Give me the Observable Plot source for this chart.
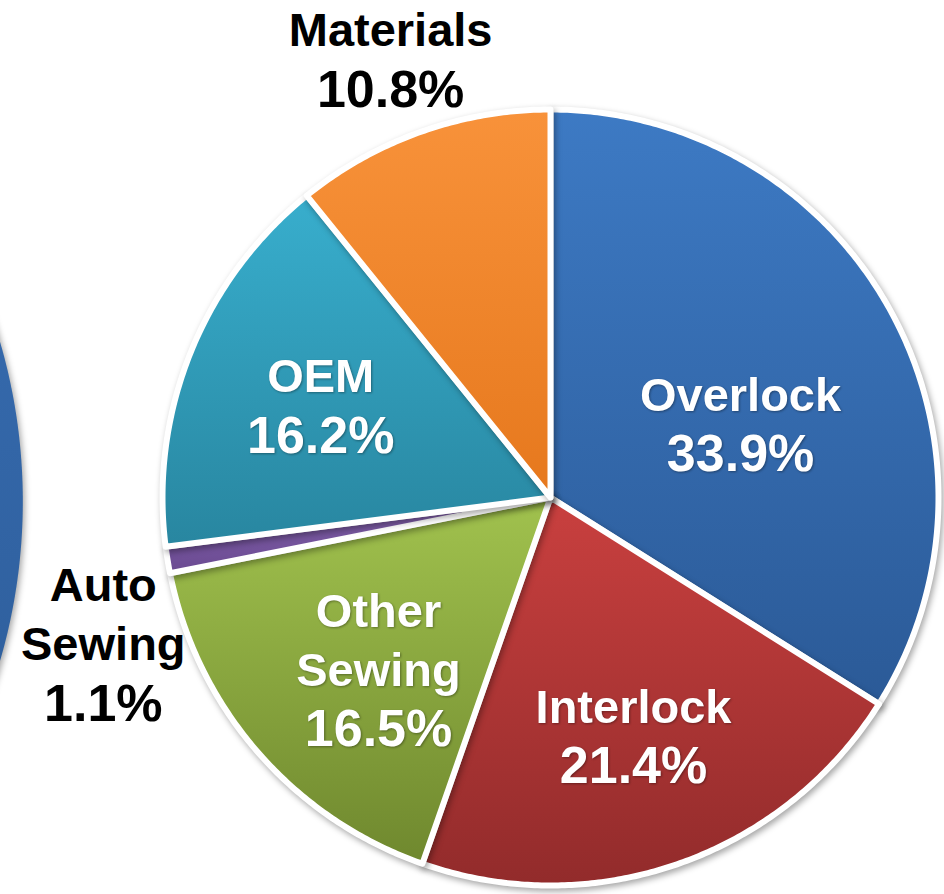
<!DOCTYPE html>
<html><head><meta charset="utf-8">
<script src="https://cdn.jsdelivr.net/npm/d3@7"></script>
<script src="https://cdn.jsdelivr.net/npm/@observablehq/plot@0.6"></script>
<style>
body{margin:0;background:#fff;}
#chart svg{display:block;}
</style>
</head><body><div id="chart"></div>
<script>
// ---- data ----
const categories = ["Overlock", "Interlock", "Other Sewing", "Auto Sewing", "OEM", "Materials"];
const shares = [33.9, 21.4, 16.5, 1.1, 16.2, 10.8];
const nameLines = [["Overlock"], ["Interlock"], ["Other", "Sewing"], ["Auto", "Sewing"], ["OEM"], ["Materials"]];
const percentTexts = ["33.9%", "21.4%", "16.5%", "1.1%", "16.2%", "10.8%"];
const colorTop = ["#3d7ac4", "#c9403f", "#a1c24e", "#8563ae", "#38aecd", "#f8923a"];
const colorBottom = ["#2b5a97", "#922b2b", "#6f882e", "#6a4a91", "#2886a0", "#e6781d"];
// neighbouring pie (previous chart, cut off at the left edge)
const neighborShares = [100];
const neighborTop = "#3a72ba", neighborBottom = "#2a5790";

// ---- layout (in pie-radius units; pie centre at 0,0) ----
const R = 388, CX = 550, CY = 497, W = 944, H = 894;
const labelPlace = { // angle (deg clockwise from top), radius factor
  "Overlock": [69.2, 0.524], "Interlock": [160.9, 0.654], "Other Sewing": [224.8, 0.629],
  "Auto Sewing": [251.7, 1.214], "OEM": [291.6, 0.637], "Materials": [339.9, 1.199]
};
const outside = new Set(["Auto Sewing", "Materials"]);
const lineStep = 59 / R;

const total = d3.sum(shares);
let acc = 0;
const slices = categories.map((c, i) => {
  const a0 = acc / total * 360; acc += shares[i];
  const a1 = acc / total * 360;
  return {name: c, i, a0, a1};
});

function ring(name, a0, a1, cx, cy, r, full) {
  const pts = [];
  if (!full) pts.push({name, x: cx, y: cy});
  const n = Math.max(2, Math.ceil((a1 - a0) / 0.5));
  for (let k = 0; k <= n; k++) {
    const a = (a0 + (a1 - a0) * k / n) * Math.PI / 180;
    pts.push({name, x: cx + r * Math.sin(a), y: cy + r * Math.cos(a)});
  }
  return pts;
}

const marks = [];
neighborShares.forEach((s, j) => {
  marks.push(Plot.line(ring("neighbor" + j, 0, 360 * s / 100, -2.83, -0.01, 1.47, true),
    {x: "x", y: "y", curve: "linear-closed", fill: "url(#gn)", stroke: "none", className: "slice"}));
});
slices.forEach(s => {
  marks.push(Plot.line(ring(s.name, s.a0, s.a1, 0, 0, 1, false),
    {x: "x", y: "y", curve: "linear-closed", fill: `url(#g${s.i})`, stroke: "white",
     strokeWidth: 6, strokeLinejoin: "round", className: "slice"}));
});

// label lines, each placed individually
const nameData = [], pctData = [];
slices.forEach(s => {
  const [ang, rad] = labelPlace[s.name];
  const a = ang * Math.PI / 180;
  const cx = rad * Math.sin(a), cy = rad * Math.cos(a);
  const lines = nameLines[s.i];
  const n = lines.length + 1;
  const out = outside.has(s.name);
  lines.forEach((t, j) => nameData.push({x: cx, y: cy + ((n - 1) / 2 - j) * lineStep, text: t, out}));
  pctData.push({x: cx, y: cy - ((n - 1) / 2) * lineStep, text: percentTexts[s.i], out});
});
const txt = (data, size, fill, cls) => Plot.text(data, {x: "x", y: "y", text: "text", fill,
  fontSize: size, fontWeight: "bold", className: cls});
marks.push(txt(nameData.filter(d => !d.out), 47, "white", "inlab"));
marks.push(txt(pctData.filter(d => !d.out), 52, "white", "inlab"));
marks.push(txt(nameData.filter(d => d.out), 47, "black", "outlab"));
marks.push(txt(pctData.filter(d => d.out), 52, "black", "outlab"));

const svg = Plot.plot({
  width: W, height: H, margin: 0,
  style: {fontFamily: "'Liberation Sans', Arial, sans-serif", background: "white"},
  x: {domain: [-CX / R, (W - CX) / R], axis: null},
  y: {domain: [-(H - CY) / R, CY / R], axis: null},
  marks
});

// gradients
const defs = d3.create("svg:defs");
function grad(id, top, bottom) {
  const g = defs.append("linearGradient").attr("id", id).attr("x1", 0).attr("y1", 0).attr("x2", 0).attr("y2", 1);
  g.append("stop").attr("offset", "0%").attr("stop-color", top);
  g.append("stop").attr("offset", "100%").attr("stop-color", bottom);
}
slices.forEach(s => grad("g" + s.i, colorTop[s.i], colorBottom[s.i]));
grad("gn", neighborTop, neighborBottom);
svg.insertBefore(defs.node(), svg.firstChild);
d3.select(svg).selectAll(".slice").style("filter", "drop-shadow(2px 3px 3px rgba(0,0,0,0.35))");
d3.select(svg).selectAll(".inlab").style("filter", "drop-shadow(1px 1px 1px rgba(0,0,0,0.35))");
document.getElementById("chart").appendChild(svg);
</script>
</body></html>
